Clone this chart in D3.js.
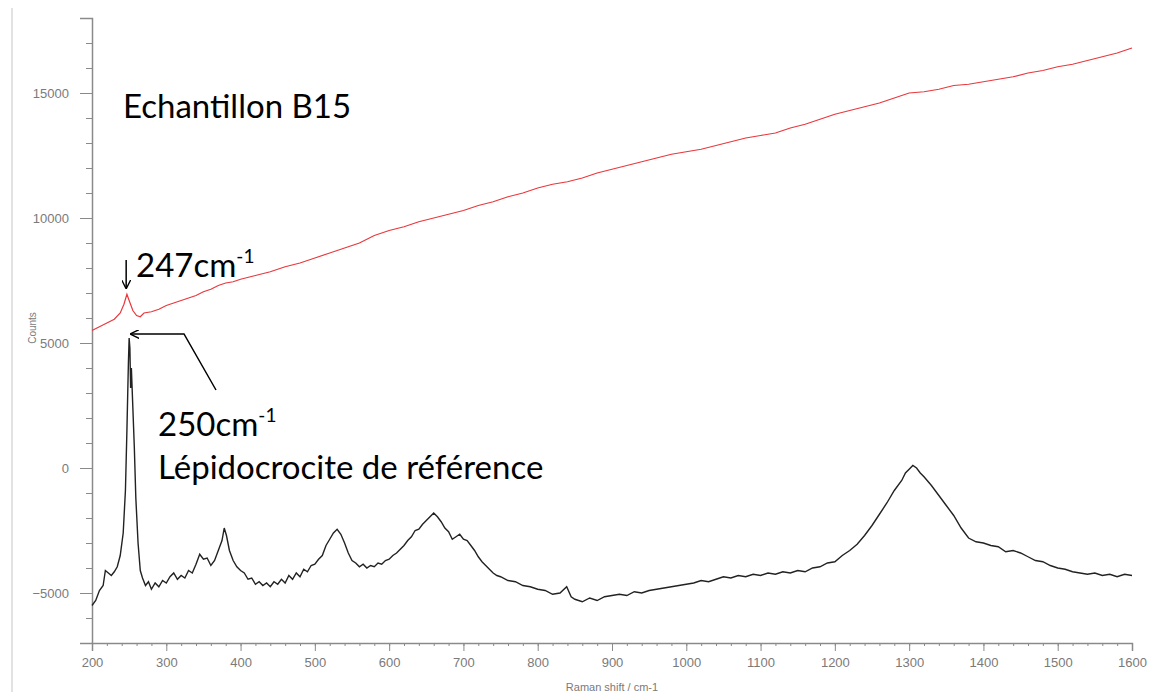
<!DOCTYPE html>
<html>
<head>
<meta charset="utf-8">
<script src="https://cdn.jsdelivr.net/npm/d3@7"></script>
<style>
  html, body { margin: 0; padding: 0; background: #fff; }
  svg { display: block; }
</style>
</head>
<body>
<svg id="chart" width="1157" height="700"></svg>
<script>
// ---- Data ----
const refShift = [200,205,210,215,218,222,226,230,234,238,242,245,247,249,250,251,252,253,255,257,259,262,265,268,272,276,280,285,290,295,300,305,310,315,320,325,330,335,340,345,350,355,360,365,370,375,378,381,385,390,395,400,405,410,415,420,425,430,435,440,445,450,455,460,465,470,475,480,485,490,495,500,505,510,515,520,525,530,535,540,545,550,555,560,565,570,575,580,585,590,595,600,605,610,615,620,625,630,635,640,645,650,655,660,665,670,675,680,685,690,695,700,705,710,715,720,725,730,735,740,745,750,760,770,780,790,800,810,820,830,839,845,850,860,870,880,890,900,910,920,930,940,950,960,970,980,990,1000,1010,1020,1030,1040,1050,1060,1070,1080,1090,1100,1110,1120,1130,1140,1150,1160,1170,1180,1190,1200,1210,1220,1230,1240,1250,1260,1270,1280,1290,1295,1300,1305,1310,1315,1320,1330,1340,1350,1360,1370,1380,1390,1400,1410,1420,1430,1440,1450,1460,1470,1480,1490,1500,1510,1520,1530,1540,1550,1560,1570,1580,1590,1600];
const refCounts = [-5500,-5300,-4900,-4700,-4100,-4200,-4300,-4150,-3950,-3500,-2600,-900,1500,4200,5200,4800,3200,4000,2400,800,-1200,-3000,-4100,-4400,-4700,-4550,-4850,-4600,-4750,-4500,-4600,-4350,-4200,-4450,-4300,-4400,-4100,-4200,-3850,-3450,-3650,-3600,-3900,-3700,-3300,-2900,-2400,-2700,-3300,-3700,-3950,-4100,-4200,-4450,-4400,-4650,-4550,-4700,-4600,-4750,-4550,-4650,-4450,-4600,-4300,-4450,-4200,-4350,-4050,-4150,-3900,-3850,-3650,-3500,-3100,-2850,-2600,-2450,-2650,-3000,-3400,-3700,-3800,-3950,-3850,-4000,-3900,-3950,-3800,-3850,-3700,-3650,-3500,-3400,-3250,-3100,-2900,-2750,-2500,-2450,-2250,-2100,-1950,-1800,-1950,-2150,-2400,-2550,-2850,-2750,-2650,-2850,-2900,-3100,-3300,-3550,-3750,-3900,-4050,-4200,-4300,-4350,-4500,-4550,-4700,-4750,-4850,-4900,-5050,-5000,-4750,-5150,-5250,-5350,-5200,-5300,-5150,-5100,-5050,-5100,-4950,-5000,-4900,-4850,-4800,-4750,-4700,-4650,-4600,-4500,-4550,-4450,-4350,-4400,-4300,-4350,-4250,-4300,-4200,-4250,-4150,-4200,-4100,-4150,-4000,-3950,-3800,-3750,-3500,-3300,-3050,-2700,-2300,-1850,-1400,-900,-500,-200,-50,100,0,-200,-350,-700,-1100,-1500,-1900,-2400,-2800,-2950,-3000,-3100,-3150,-3350,-3300,-3400,-3550,-3700,-3750,-3900,-4000,-4050,-4150,-4200,-4250,-4200,-4300,-4250,-4350,-4250,-4300,-4200];

const sampleShift = [200,210,220,230,238,243,247,250,255,260,265,270,280,290,300,310,320,330,340,350,360,370,380,390,400,420,440,460,480,500,520,540,560,580,600,620,640,660,680,700,720,740,760,780,800,820,840,860,880,900,920,940,960,980,1000,1020,1040,1060,1080,1100,1120,1140,1160,1180,1200,1220,1240,1260,1280,1300,1320,1340,1360,1380,1400,1420,1440,1460,1480,1500,1520,1540,1560,1580,1600];
const sampleCounts = [5500,5650,5800,5950,6200,6550,6950,6700,6300,6100,6050,6200,6250,6350,6500,6600,6700,6800,6900,7050,7150,7300,7400,7450,7550,7700,7850,8050,8200,8400,8600,8800,9000,9300,9500,9650,9850,10000,10150,10300,10500,10650,10850,11000,11200,11350,11450,11600,11800,11950,12100,12250,12400,12550,12650,12750,12900,13050,13200,13300,13400,13600,13750,13950,14150,14300,14450,14600,14800,15000,15050,15150,15300,15350,15450,15550,15650,15800,15900,16050,16150,16300,16450,16600,16800];

const yTickValues = [-5000, 0, 5000, 10000, 15000];
const xTickValues = [200,300,400,500,600,700,800,900,1000,1100,1200,1300,1400,1500,1600];

// ---- Chart ----
const svg = d3.select("#chart");
const x = d3.scaleLinear().domain([200, 1600]).range([92, 1132]);
const y = d3.scaleLinear().domain([-7000, 18000]).range([643, 18]);

// faint frame line on the left
svg.append("line").attr("x1", 12).attr("x2", 12).attr("y1", 8).attr("y2", 692)
  .attr("stroke", "#e2e2e2").attr("stroke-width", 2);

const axisColor = "#8a8a8a";
const labelColor = "#7a7a7a";
const axisFont = "Liberation Sans, Arial, sans-serif";

// Y axis
const yMinor = d3.range(-7000, 18001, 1000);
const gy = svg.append("g").attr("transform", `translate(${x(200)},0)`);
gy.call(d3.axisLeft(y).tickValues(yMinor).tickSize(6).tickFormat(""));
gy.call(g => g.select(".domain").remove());
const gy2 = svg.append("g").attr("transform", `translate(${x(200)},0)`)
  .call(d3.axisLeft(y).tickValues(yTickValues).tickSize(12).tickPadding(11).tickFormat(d3.format("d")));
[gy, gy2].forEach(g => {
  g.selectAll("line").attr("stroke", axisColor);
  g.selectAll("path").attr("stroke", axisColor).attr("stroke-width", 1.5);
  g.selectAll("text").attr("fill", labelColor).attr("font-family", axisFont).attr("font-size", 13);
});

// X axis
const xMinor = d3.range(200, 1601, 20);
const gx = svg.append("g").attr("transform", `translate(0,${y(-7000)})`);
gx.call(d3.axisBottom(x).tickValues(xMinor).tickSize(3).tickFormat(""));
gx.call(g => g.select(".domain").remove());
const gx2 = svg.append("g").attr("transform", `translate(0,${y(-7000)})`)
  .call(d3.axisBottom(x).tickValues(xTickValues).tickSize(8).tickPadding(7).tickFormat(d3.format("d")));
[gx, gx2].forEach(g => {
  g.selectAll("line").attr("stroke", axisColor);
  g.selectAll("path").attr("stroke", axisColor).attr("stroke-width", 1.5);
  g.selectAll("text").attr("fill", labelColor).attr("font-family", axisFont).attr("font-size", 13);
});

// Axis titles
svg.append("text").attr("x", x(900)).attr("y", 691).attr("text-anchor", "middle")
  .attr("fill", labelColor).attr("font-family", axisFont).attr("font-size", 11)
  .text("Raman shift / cm-1");
svg.append("text").attr("transform", `translate(36,${y(5600)}) rotate(-90)`).attr("text-anchor", "middle")
  .attr("fill", labelColor).attr("font-family", axisFont).attr("font-size", 10)
  .text("Counts");

// Lines
const line = d3.line().x(d => x(d[0])).y(d => y(d[1]));
const refData = d3.zip(refShift, refCounts);
const sampleData = d3.zip(sampleShift, sampleCounts);

svg.append("path").datum(sampleData).attr("d", line)
  .attr("fill", "none").attr("stroke", "#e8383d").attr("stroke-width", 1.2);
svg.append("path").datum(refData).attr("d", line)
  .attr("fill", "none").attr("stroke", "#222").attr("stroke-width", 1.4);

// Annotations
const annFont = "Lato, 'Open Sans', sans-serif";
const annSize = 33;
svg.append("text").attr("x", 123).attr("y", 118).attr("font-family", annFont).attr("font-size", annSize)
  .attr("fill", "#000").text("Echantillon B15");

function supLabel(tx, ty, main, sup) {
  const t = svg.append("text").attr("x", tx).attr("y", ty).attr("font-family", annFont)
    .attr("font-size", annSize).attr("fill", "#000");
  t.append("tspan").text(main);
  t.append("tspan").attr("font-size", 19).attr("dy", -14).text(sup);
}
supLabel(136, 277, "247cm", "-1");
supLabel(158, 436, "250cm", "-1");
svg.append("text").attr("x", 158).attr("y", 479).attr("font-family", annFont).attr("font-size", annSize)
  .attr("fill", "#000").text("Lépidocrocite de référence");

// arrow markers
svg.append("defs").append("marker").attr("id", "ah").attr("viewBox", "0 0 10 10")
  .attr("refX", 9).attr("refY", 5).attr("markerWidth", 9).attr("markerHeight", 9)
  .attr("markerUnits", "userSpaceOnUse").attr("orient", "auto")
  .append("path").attr("d", "M0,0 L10,5 L0,10").attr("fill", "none").attr("stroke", "#000").attr("stroke-width", 1.5);

// down arrow at 247
svg.append("line").attr("x1", x(246)).attr("x2", x(246)).attr("y1", 260).attr("y2", 288)
  .attr("stroke", "#000").attr("stroke-width", 1.5).attr("marker-end", "url(#ah)");
// leader to the 250 peak
svg.append("polyline").attr("points", `216,390 184,334 ${x(250) + 2},334`)
  .attr("fill", "none").attr("stroke", "#000").attr("stroke-width", 1.5).attr("marker-end", "url(#ah)");
</script>
</body>
</html>
